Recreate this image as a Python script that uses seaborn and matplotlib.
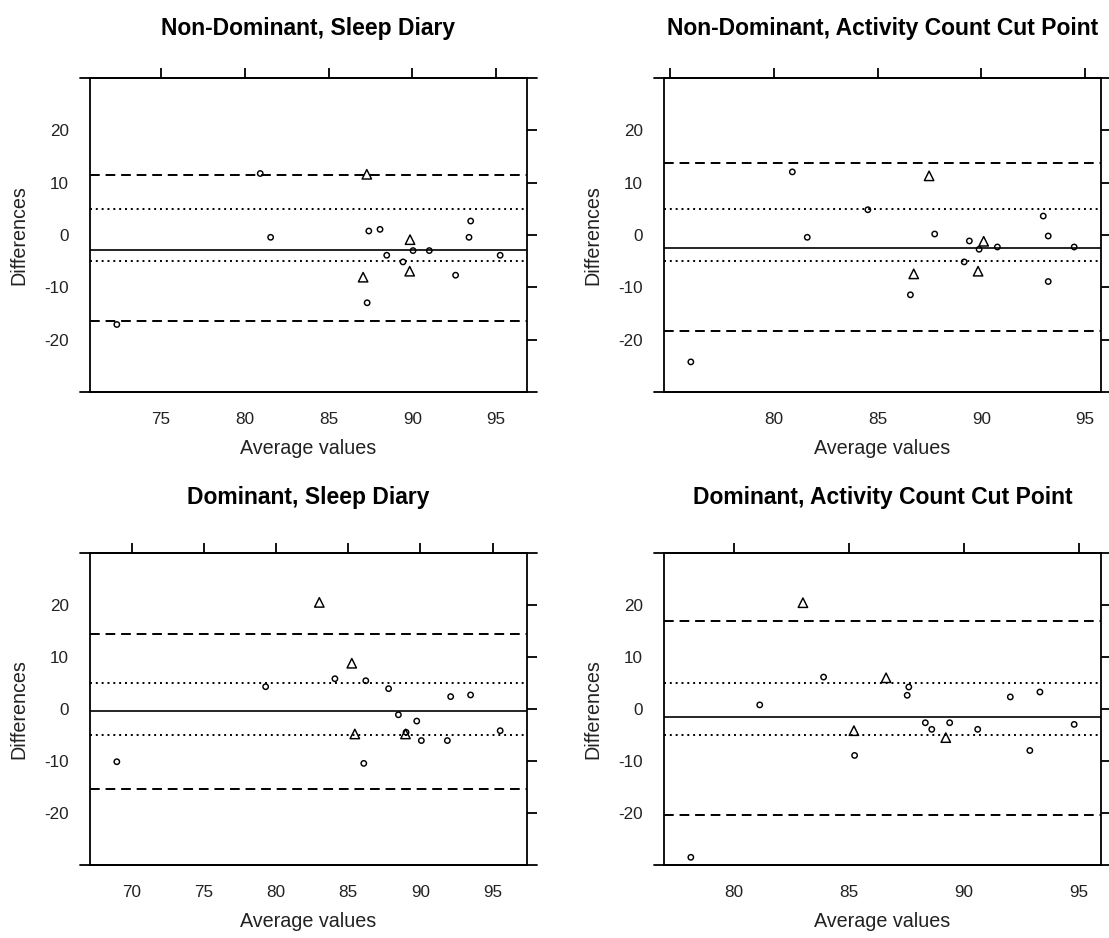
import matplotlib
matplotlib.use("Agg")
import matplotlib.pyplot as plt
import seaborn as sns
import pandas as pd

sns.set_theme(style="white")
plt.rcParams['font.family'] = ['Liberation Sans', 'DejaVu Sans']

# panel titles
titles = ["Non-Dominant, Sleep Diary", "Non-Dominant, Activity Count Cut Point",
          "Dominant, Sleep Diary", "Dominant, Activity Count Cut Point"]

# Non-Dominant, Sleep Diary
nd_sd_avg = [72.36, 80.92, 81.54, 87.28, 87.40, 88.07, 88.47, 87.06, 87.30,
             89.86, 89.44, 90.04, 89.84, 91.01, 92.58, 93.38, 93.48, 95.24]
nd_sd_diff = [-17.1, 11.75, -0.44, 11.6, 0.76, 1.08, -3.87, -8.06, -12.95,
              -0.89, -5.14, -2.98, -6.92, -2.98, -7.68, -0.44, 2.67, -3.87]
nd_sd_shape = ["o", "o", "o", "^", "o", "o", "o", "^", "o",
               "^", "o", "o", "^", "o", "o", "o", "o", "o"]

# Non-Dominant, Activity Count Cut Point
nd_ac_avg = [76.0, 80.89, 81.61, 84.53, 87.48, 87.75, 86.74, 86.58, 89.42,
             89.17, 90.11, 89.89, 89.84, 90.77, 92.98, 93.22, 93.22, 94.47]
nd_ac_diff = [-24.25, 12.06, -0.44, 4.83, 11.3, 0.19, -7.43, -11.43, -1.14,
              -5.14, -1.2, -2.73, -6.92, -2.29, 3.62, -0.19, -8.89, -2.29]
nd_ac_shape = ["o", "o", "o", "o", "^", "o", "^", "o", "o",
               "o", "^", "o", "^", "o", "o", "o", "o", "o"]

# Dominant, Sleep Diary
d_sd_avg = [68.97, 79.28, 83.0, 85.25, 84.08, 86.22, 87.8, 85.46, 86.08,
            88.48, 88.97, 89.01, 89.75, 90.07, 91.87, 92.1, 93.48, 95.53]
d_sd_diff = [-10.14, 4.29, 20.5, 8.8, 5.82, 5.44, 3.91, -4.8, -10.46,
             -1.11, -4.8, -4.48, -2.32, -6.07, -6.07, 2.38, 2.7, -4.17]
d_sd_shape = ["o", "o", "^", "^", "o", "o", "o", "^", "o",
              "o", "^", "o", "o", "o", "o", "o", "o", "o"]

# Dominant, Activity Count Cut Point
d_ac_avg = [78.12, 81.12, 83.0, 83.9, 86.62, 87.61, 87.54, 85.22, 85.25,
            88.33, 88.61, 89.39, 89.22, 90.61, 92.03, 92.88, 93.32, 94.81]
d_ac_diff = [-28.52, 0.79, 20.44, 6.14, 6.0, 4.23, 2.64, -4.17, -8.93,
             -2.64, -3.91, -2.64, -5.5, -3.91, 2.32, -7.98, 3.27, -2.96]
d_ac_shape = ["o", "o", "^", "o", "^", "o", "o", "^", "o",
              "o", "o", "o", "^", "o", "o", "o", "o", "o"]

# mean difference and limits of agreement
bias = [-2.8, -2.41, -0.29, -1.56]
upper_loa = [11.56, 13.78, 14.4, 17.01]
lower_loa = [-16.5, -18.41, -15.36, -20.32]
ref_band = 5

# axis ticks
y_ticks = [-20, -10, 0, 10, 20]
x_ticks = [[75, 80, 85, 90, 95], [75, 80, 85, 90, 95],
           [70, 75, 80, 85, 90, 95], [80, 85, 90, 95]]
x_ticklabels = [["75", "80", "85", "90", "95"], ["", "80", "85", "90", "95"],
                ["70", "75", "80", "85", "90", "95"], ["80", "85", "90", "95"]]

panels = [(nd_sd_avg, nd_sd_diff, nd_sd_shape), (nd_ac_avg, nd_ac_diff, nd_ac_shape),
          (d_sd_avg, d_sd_diff, d_sd_shape), (d_ac_avg, d_ac_diff, d_ac_shape)]

W, H = 1109, 938
fig = plt.figure(figsize=(W / 100, H / 100), dpi=100)
fig.patch.set_facecolor('white')

# axes boxes in pixels: left, top, right, bottom
boxes = [(90, 78, 527, 392), (664, 78, 1101, 392),
         (90, 553, 527, 865), (664, 553, 1101, 865)]
title_y = [28, 28, 497, 497]

lw = 1.3
for i, (avg, diff, shape) in enumerate(panels):
    l, t, r, b = boxes[i]
    ax = fig.add_axes([l / W, 1 - b / H, (r - l) / W, (b - t) / H])
    df = pd.DataFrame({'avg': avg, 'diff': diff, 'shape': shape})

    ax.axhline(upper_loa[i], color='black', lw=1.4, ls=(0, (5, 3)))
    ax.axhline(lower_loa[i], color='black', lw=1.4, ls=(0, (5, 3)))
    ax.axhline(ref_band, color='black', lw=1.4, ls=(0, (1, 2)))
    ax.axhline(-ref_band, color='black', lw=1.4, ls=(0, (1, 2)))
    ax.axhline(bias[i], color='black', lw=1.2)

    sns.scatterplot(data=df, x='avg', y='diff', style='shape', markers={'o': 'o', '^': '^'},
                    size='shape', sizes={'o': 15, '^': 46}, facecolors='none',
                    edgecolor='black', linewidth=1.05, legend=False, ax=ax, zorder=3)

    ax.margins(x=0.07)
    ax.set_ylim(-30, 30)
    ax.set_yticks(y_ticks)
    ax.set_yticklabels([str(v) for v in y_ticks])
    ax.set_xticks(x_ticks[i])
    ax.set_xticklabels(x_ticklabels[i])
    ax.tick_params(axis='both', direction='out', length=7.2, width=lw, color='black',
                   labelsize=12.3, labelcolor='#222222', top=True, right=True,
                   labeltop=False, labelright=False)
    ax.tick_params(axis='x', pad=7.5)
    ax.tick_params(axis='y', pad=8)
    for sp in ax.spines.values():
        sp.set_linewidth(lw)
        sp.set_color('black')
    # axis lines run a little past the box, as in lattice
    for yy in (0, 1):
        ax.plot([-0.023, 1.023], [yy, yy], transform=ax.transAxes, clip_on=False,
                color='black', lw=lw)

    ax.set_xlabel("Average values", fontsize=14.2, color='#222222')
    ax.set_ylabel("Differences", fontsize=14.2, color='#222222')
    ax.xaxis.set_label_coords(0.5, -0.15)
    ax.yaxis.set_label_coords(-0.14, 0.5)

    fig.text(((l + r) / 2) / W, 1 - title_y[i] / H, titles[i], ha='center', va='center',
             fontsize=16.5, fontweight='bold', color='black')

fig.savefig('out.png', dpi=100, facecolor='white')
